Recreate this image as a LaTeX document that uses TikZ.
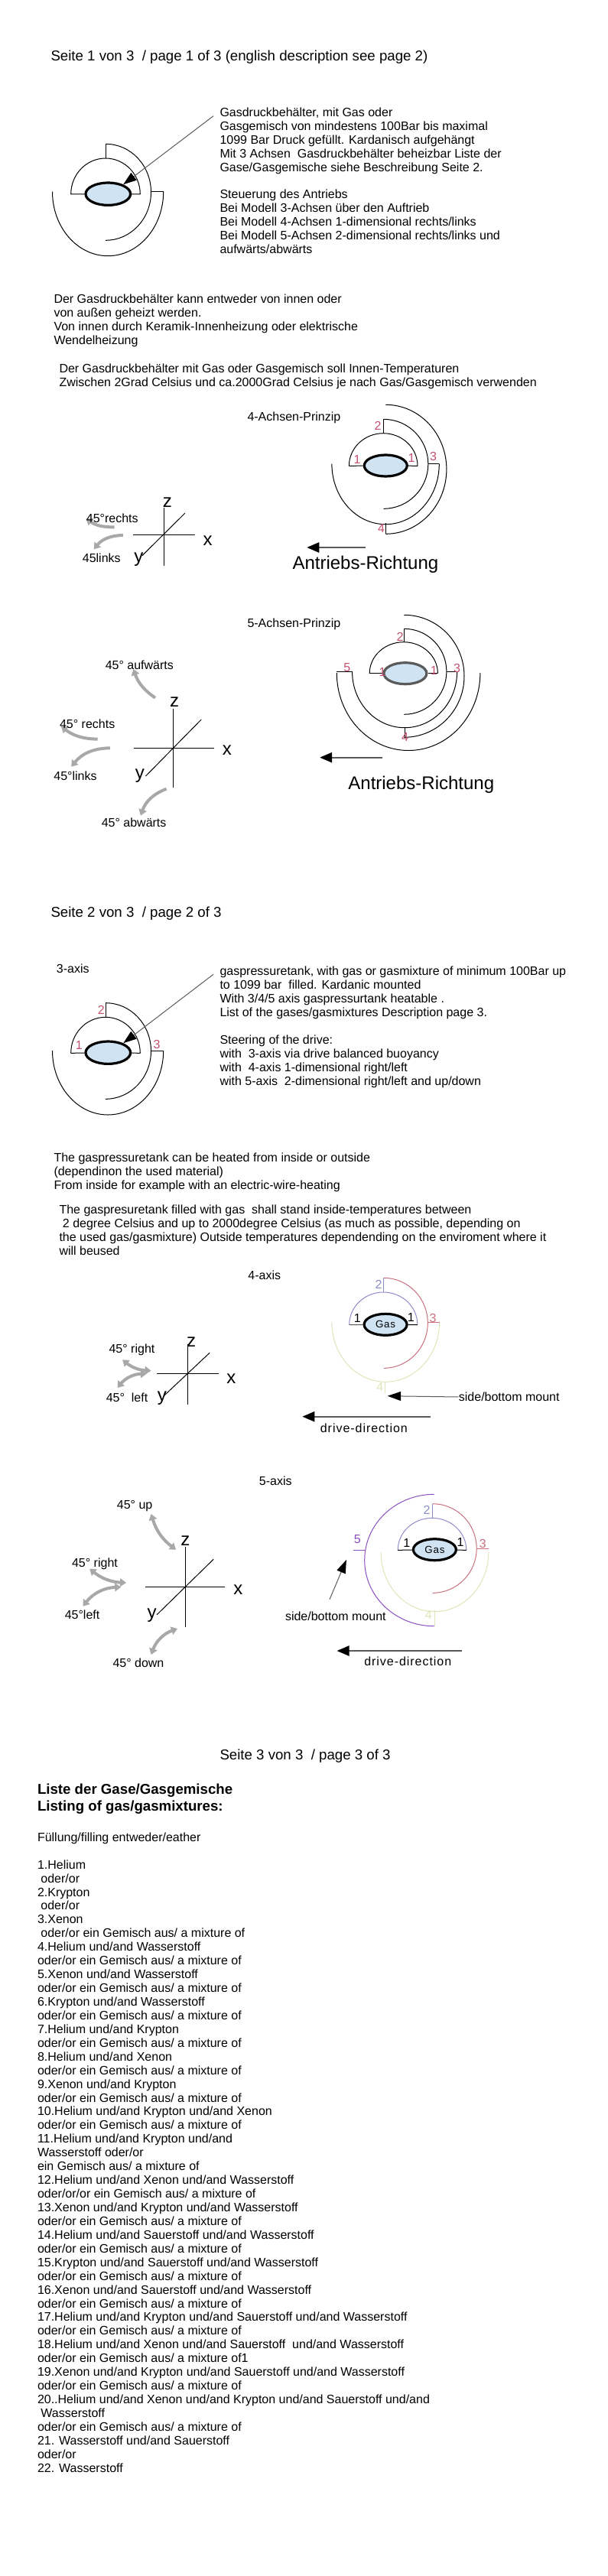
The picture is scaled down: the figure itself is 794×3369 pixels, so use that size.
\documentclass[tikz,border=0pt]{standalone}
\usepackage{fontspec}
\setmainfont{Liberation Sans}
\newfontfamily\spacedfont[LetterSpace=6]{Liberation Sans}
\usetikzlibrary{arrows.meta,shapes.geometric}
\definecolor{tankblue}{RGB}{207,227,242}
\definecolor{labelred}{RGB}{194,80,110}
\definecolor{arrowgray}{RGB}{168,168,168}
\definecolor{linegray}{RGB}{90,90,90}
\definecolor{bluearc}{RGB}{140,140,200}
\definecolor{redarc}{RGB}{200,112,127}
\definecolor{greenarc}{RGB}{221,230,184}
\definecolor{purplearc}{RGB}{138,79,192}
\tikzset{every picture/.style={line width=0.75pt},
  doctext/.style={anchor=base west,inner sep=0pt,align=left,font=\fontsize{12}{13.45}\selectfont},
  pagetitle/.style={doctext,font=\fontsize{14}{16}\selectfont},
  bigtext/.style={doctext,font=\fontsize{18}{20}\selectfont},
  axislabel/.style={inner sep=0pt,font=\fontsize{18}{20}\selectfont},
  numlabel/.style={inner sep=0pt,font=\fontsize{12}{14}\selectfont},
  tank/.style={ellipse,draw=black,line width=2.4pt,fill=tankblue,inner sep=0pt,minimum width=44pt,minimum height=22pt},
  tanksmall/.style={tank,minimum width=42pt,minimum height=21pt},
  pointer/.style={draw=linegray,-{Triangle[length=13pt,width=9pt,color=black]}},
  drivearrow/.style={draw=linegray,line width=1.2pt,-{Triangle[length=12pt,width=10pt,color=black]}},
  swingarrow/.style={arrowgray,line width=3pt,-{Triangle[length=6pt,width=8pt]}},
  swingboth/.style={arrowgray,line width=3pt,{Triangle[length=6pt,width=8pt]}-{Triangle[length=6pt,width=8pt]}}}
\begin{document}
\begin{tikzpicture}[x=0.75pt,y=0.75pt,yscale=-1,xscale=1]
\useasboundingbox (0,0) rectangle (794,3369);

% Text Node
\node[pagetitle] (titleA) at (66,79) {Seite 1 von 3~ / page 1 of 3 (english description see page 2)};
\node[doctext] (textAa) at (287,331.6) {Gasdruckbehälter, mit Gas oder\\Gasgemisch von mindestens 100Bar bis maximal\\1099 Bar Druck gefüllt. Kardanisch aufgehängt\\Mit 3 Achsen~ Gasdruckbehälter beheizbar Liste der\\Gase/Gasgemische siehe Beschreibung Seite 2.\\~\\Steuerung des Antriebs\\Bei Modell 3-Achsen über den Auftrieb\\Bei Modell 4-Achsen 1-dimensional rechts/links\\Bei Modell 5-Achsen 2-dimensional rechts/links und\\aufwärts/abwärts};
\node[doctext] (textAb) at (70,450.5) {Der Gasdruckbehälter kann entweder von innen oder\\von außen geheizt werden.\\Von innen durch Keramik-Innenheizung oder elektrische\\Wendelheizung};
\node[doctext] (textAc) at (77,505.2) {Der Gasdruckbehälter mit Gas oder Gasgemisch soll Innen-Temperaturen\\Zwischen 2Grad Celsius und ca.2000Grad Celsius je nach Gas/Gasgemisch verwenden};

% Tank, 3 axes
\node[tank] (tankA) at (141.3,253.7) {};
\coordinate (armAl) at (92.7,254);
\coordinate (armAr) at (183.3,254);
\coordinate (pivotAa) at (138.2,207);
\coordinate (pivotAb) at (138.2,188.3);
\coordinate (armAs) at (197.5,250.7);
\coordinate (armAe) at (213.7,250.7);
\coordinate (leaderA) at (279,151.7);
\draw (armAl) arc[start angle=180,end angle=360,x radius=45.3,y radius=47];
\draw (pivotAb) arc[start angle=-90,end angle=90,x radius=59.3,y radius=63];
\draw (armAe) arc[start angle=0,end angle=180,x radius=72.6,y radius=84];
% Connection
\draw (armAl) -- (tankA);
\draw (tankA) -- (armAr);
\draw (pivotAa) -- (pivotAb);
\draw (armAs) -- (armAe);
\draw[pointer] (leaderA) -- (tankA.32);

% Tank, 4 axes
\node[doctext] (prinzipB) at (323,550) {4-Achsen-Prinzip};
\node[tanksmall] (tankB) at (504.3,609) {};
\coordinate (armBl) at (456.4,609.3);
\coordinate (armBr) at (546,609.3);
\coordinate (pivotBa) at (501.6,566.7);
\coordinate (pivotBb) at (501.6,548.3);
\coordinate (armBs) at (559.8,606.7);
\coordinate (armBe) at (574.3,606.7);
\coordinate (pivotBc) at (504.3,684);
\coordinate (pivotBd) at (504.3,698.3);
\draw (armBl) arc[start angle=180,end angle=360,x radius=44.8,y radius=42.6];
\draw (pivotBb) arc[start angle=-90,end angle=90,x radius=58.2,y radius=58.5];
\draw (armBe) arc[start angle=0,end angle=180,x radius=70.2,y radius=79];
\draw (pivotBd) arc[start angle=90,end angle=-90,x radius=79.6,y radius=84.5];
% Connection
\draw (armBl) -- (tankB);
\draw (tankB) -- (armBr);
\draw (pivotBa) -- (pivotBb);
\draw (armBs) -- (armBe);
\draw (pivotBc) -- (pivotBd);
\node[numlabel,labelred] (numBa) at (467,600.7) {1};
\node[numlabel,labelred] (numBb) at (538,599) {1};
\node[numlabel,labelred] (numBc) at (494,557.3) {2};
\node[numlabel,labelred] (numBd) at (566.6,597.3) {3};
\node[numlabel,labelred] (numBe) at (498.5,690.7) {4};
\coordinate (driveBa) at (477.5,716);
\coordinate (driveBb) at (401.3,716);
\draw[drivearrow] (driveBa) -- (driveBb);
\node[bigtext] (driveB) at (382,744) {Antriebs-Richtung};
% Axes, 4 axes
\draw (214.6,664) -- (214.6,740);
\draw (174.4,699.3) -- (254.7,699.3);
\draw (242,671) -- (185.9,726.7);
\node[axislabel] (axisBz) at (218.8,657.3) {z};
\node[axislabel] (axisBx) at (271.6,706.7) {x};
\node[axislabel] (axisBy) at (181.3,731.7) {y};
\draw[swingarrow] (149.5,689.3) to[bend right=18] (112.4,678.3);
\draw[swingarrow] (161,700) to[bend left=25] (122.7,718.3);
\node[doctext] (swingBa) at (112.4,683.3) {45°rechts};
\node[doctext] (swingBb) at (107.4,735.7) {45links};

% Tank, 5 axes
\node[doctext] (prinzipC) at (323,820) {5-Achsen-Prinzip};
\node[tanksmall,draw=linegray] (tankC) at (529.9,880.7) {};
\coordinate (armCl) at (483.2,880.7);
\coordinate (armCr) at (572.4,880.7);
\coordinate (pivotCa) at (528.4,840);
\coordinate (pivotCb) at (528.4,822.3);
\coordinate (armCs) at (583.9,878.7);
\coordinate (armCe) at (597.6,878.7);
\coordinate (pivotCc) at (529.5,951.7);
\coordinate (pivotCd) at (529.5,964.3);
\coordinate (armCf) at (440.4,878.7);
\coordinate (armCg) at (460.6,878.7);
\coordinate (armCh) at (627.9,880);
\coordinate (topC) at (528.4,804.3);
\draw (armCl) arc[start angle=180,end angle=360,x radius=44.6,y radius=41];
\draw (pivotCb) arc[start angle=-90,end angle=90,x radius=55.5,y radius=56];
\draw (armCe) arc[start angle=0,end angle=180,x radius=68.5,y radius=73];
\draw (topC) arc[start angle=-90,end angle=90,x radius=78.6,y radius=80];
\draw (armCh) arc[start angle=0,end angle=180,x radius=93.8,y radius=101.5];
% Connection
\draw (armCl) -- (tankC);
\draw (tankC) -- (armCr);
\draw (pivotCa) -- (pivotCb);
\draw (armCs) -- (armCe);
\draw (pivotCc) -- (pivotCd);
\draw (armCf) -- (armCg);
\node[numlabel,labelred] (numCa) at (500,878.7) {1};
\node[numlabel,labelred] (numCb) at (567.4,877.3) {1};
\node[numlabel,labelred] (numCc) at (523,833.3) {2};
\node[numlabel,labelred] (numCd) at (597.6,874) {3};
\node[numlabel,labelred] (numCe) at (529.5,964.3) {4};
\node[numlabel,labelred] (numCf) at (453.7,872.7) {5};
\coordinate (driveCa) at (499.7,990.7);
\coordinate (driveCb) at (418.2,990.7);
\draw[drivearrow] (driveCa) -- (driveCb);
\node[bigtext] (driveC) at (454.9,1032) {Antriebs-Richtung};
% Axes, 5 axes
\draw (226.8,926.7) -- (226.8,1030);
\draw (175.1,978) -- (279.6,978);
\draw (263.2,941) -- (190.5,1015);
\node[axislabel] (axisCz) at (228,917.7) {z};
\node[axislabel] (axisCx) at (296.8,981.3) {x};
\node[axislabel] (axisCy) at (182.8,1015) {y};
\draw[swingarrow] (203,912.7) to[bend right=18] (174.4,875);
\draw[swingarrow] (127.7,966.7) to[bend right=18] (79.9,950);
\draw[swingarrow] (143.8,978.3) to[bend left=25] (93.2,1002.7);
\draw[swingarrow] (217.6,1031.7) to[bend left=25] (184,1066.7);
\node[doctext] (swingCa) at (137.3,875) {45° aufwärts};
\node[doctext] (swingCb) at (77.6,952.3) {45° rechts};
\node[doctext] (swingCc) at (69.9,1020.7) {45°links};
\node[doctext] (swingCd) at (132.3,1081) {45° abwärts};

% Text Node
\node[pagetitle] (titleD) at (66,1199) {Seite 2 von 3~ / page 2 of 3};
\node[doctext] (axisLabelD) at (73.4,1272.3) {3-axis};
\node[doctext] (textDa) at (287,1419.1) {gaspressuretank, with gas or gasmixture of minimum 100Bar up\\to 1099 bar~ filled. Kardanic mounted\\With 3/4/5 axis gaspressurtank heatable .\\List of the gases/gasmixtures Description page 3.\\~\\Steering of the drive:\\with~ 3-axis via drive balanced buoyancy\\with~ 4-axis 1-dimensional right/left\\with 5-axis~ 2-dimensional right/left and up/down};
\node[doctext] (textDb) at (70,1555.2) {The gaspressuretank can be heated from inside or outside\\(dependinon the used material)\\From inside for example with an electric-wire-heating};
\node[doctext] (textDc) at (77,1641.1) {The gaspresuretank filled with gas~ shall stand inside-temperatures between\\~2 degree Celsius and up to 2000degree Celsius (as much as possible, depending on\\the used gas/gasmixture) Outside temperatures dependending on the enviroment where it\\will beused};

% Tank, 3 axis
\node[tank] (tankD) at (141.3,1376.7) {};
\coordinate (armDl) at (92.7,1377.3);
\coordinate (armDr) at (183.3,1377.3);
\coordinate (pivotDa) at (138.2,1330.3);
\coordinate (pivotDb) at (138.2,1311.7);
\coordinate (armDs) at (197.5,1374);
\coordinate (armDe) at (213.7,1374);
\coordinate (leaderD) at (279,1274.3);
\draw (armDl) arc[start angle=180,end angle=360,x radius=45.3,y radius=47];
\draw (pivotDb) arc[start angle=-90,end angle=90,x radius=59.3,y radius=62.8];
\draw (armDe) arc[start angle=0,end angle=180,x radius=72.6,y radius=84];
% Connection
\draw (armDl) -- (tankD);
\draw (tankD) -- (armDr);
\draw (pivotDa) -- (pivotDb);
\draw (armDs) -- (armDe);
\draw[pointer] (leaderD) -- (tankD.32);
\node[numlabel,labelred] (numDa) at (103.3,1367) {1};
\node[numlabel,labelred] (numDb) at (132.2,1320.7) {2};
\node[numlabel,labelred] (numDc) at (205,1366) {3};

% Tank, 4 axis
\node[doctext] (axisLabelE) at (323.9,1673.3) {4-axis};
\node[tanksmall] (tankE) at (504.1,1732.3) {\spacedfont\fontsize{10}{12}\selectfont Gas};
\coordinate (armEl) at (456.7,1732.7);
\coordinate (armEr) at (545.8,1732.7);
\coordinate (pivotEa) at (501.8,1690);
\coordinate (pivotEb) at (501.8,1671.3);
\coordinate (armEs) at (559.3,1729.3);
\coordinate (armEe) at (574.6,1729.3);
\coordinate (pivotEc) at (503.7,1807.3);
\coordinate (pivotEd) at (503.7,1821.7);
\draw[bluearc] (armEl) arc[start angle=180,end angle=360,x radius=44.6,y radius=42.7];
\draw[redarc] (pivotEb) arc[start angle=-90,end angle=90,x radius=57.5,y radius=59];
\draw[greenarc] (armEe) arc[start angle=0,end angle=180,x radius=70.4,y radius=78];
% Connection
\draw[linegray] (armEl) -- (tankE);
\draw (tankE) -- (armEr);
\draw[bluearc] (pivotEa) -- (pivotEb);
\draw[redarc] (armEs) -- (armEe);
\draw[greenarc] (pivotEc) -- (pivotEd);
\node[numlabel] (numEa) at (467.4,1724) {1};
\node[numlabel] (numEb) at (537.4,1722.7) {1};
\node[numlabel,bluearc] (numEc) at (495,1680) {2};
\node[numlabel,redarc] (numEd) at (566,1724.3) {3};
\node[numlabel,greenarc] (numEe) at (496.9,1814.3) {4};
\node[doctext] (mountE) at (599.4,1832.7) {side/bottom mount};
\coordinate (mountEa) at (506.8,1825.7);
\draw[pointer] (mountE.west) -- (mountEa);
\coordinate (driveEa) at (563,1852.7);
\coordinate (driveEb) at (395.4,1852.7);
\draw[drivearrow] (driveEa) -- (driveEb);
\node[doctext,font=\spacedfont\fontsize{12}{14}\selectfont] (driveE) at (418.4,1873.7) {drive-direction};
% Axes, 4 axis
\draw (245.8,1758) -- (245.8,1836.7);
\draw (205.2,1796.7) -- (286.4,1796.7);
\draw (274.1,1769.3) -- (214.8,1825);
\node[axislabel] (axisEz) at (250,1755) {z};
\node[axislabel] (axisEx) at (302.4,1803.3) {x};
\node[axislabel] (axisEy) at (211.8,1829) {y};
\draw[swingboth] (197.6,1792.7) to[bend right=18] (160.1,1778.3);
\draw[swingboth] (191.8,1796.7) to[bend left=25] (153.6,1815);
\node[doctext] (swingEa) at (142.1,1769.7) {45° right};
\node[doctext] (swingEb) at (138.3,1833.3) {45°~ left};

% Tank, 5 axis
\node[doctext] (axisLabelF) at (338.4,1942.3) {5-axis};
\node[tanksmall] (tankF) at (568.4,2026.7) {\spacedfont\fontsize{10}{12}\selectfont Gas};
\coordinate (armFl) at (520.2,2027.3);
\coordinate (armFr) at (609.8,2027.3);
\coordinate (pivotFa) at (565.7,1985);
\coordinate (pivotFb) at (565.7,1966.7);
\coordinate (armFs) at (623.2,2025);
\coordinate (armFe) at (638.8,2025);
\coordinate (pivotFc) at (568.8,2105.7);
\coordinate (pivotFd) at (568.8,2126.7);
\coordinate (armFf) at (461.7,2027.7);
\coordinate (armFg) at (477,2027.7);
\coordinate (topF) at (567.7,1954.3);
\coordinate (mountFb) at (431,2091.7);
\coordinate (mountFa) at (452.9,2040);
\draw[bluearc] (armFl) arc[start angle=180,end angle=360,x radius=44.8,y radius=42];
\draw[redarc] (pivotFb) arc[start angle=-90,end angle=90,x radius=57.5,y radius=58.3];
\draw[greenarc] (638.8,2030) arc[start angle=0,end angle=180,x radius=70.4,y radius=77.7];
\draw[purplearc] (topF) arc[start angle=-90,end angle=-270,x radius=91,y radius=86.2];
% Connection
\draw (armFl) -- (tankF);
\draw (tankF) -- (armFr);
\draw[bluearc] (pivotFa) -- (pivotFb);
\draw[redarc] (armFs) -- (armFe);
\draw[greenarc] (pivotFc) -- (pivotFd);
\draw[purplearc] (armFf) -- (armFg);
\node[numlabel] (numFa) at (531.7,2018.3) {1};
\node[numlabel] (numFb) at (602.1,2016.7) {1};
\node[numlabel,bluearc] (numFc) at (558.1,1975) {2};
\node[numlabel,redarc] (numFd) at (631.2,2019) {3};
\node[numlabel,greenarc] (numFe) at (560.4,2111.7) {4};
\node[numlabel,purplearc] (numFf) at (467.4,2013.3) {5};
\node[doctext] (mountF) at (372.5,2119.3) {side/bottom mount};
\draw[pointer] (mountFb) -- (mountFa);
\coordinate (driveFa) at (604.4,2159);
\coordinate (driveFb) at (440.6,2159);
\draw[drivearrow] (driveFa) -- (driveFb);
\node[doctext,font=\spacedfont\fontsize{12}{14}\selectfont] (driveF) at (475.8,2178.3) {drive-direction};
% Axes, 5 axis
\draw (242.4,2023.3) -- (242.4,2127.7);
\draw (189.9,2075.7) -- (294,2075.7);
\draw (279.1,2039.3) -- (205.2,2111.7);
\node[axislabel] (axisFz) at (242.4,2015) {z};
\node[axislabel] (axisFx) at (311.3,2079.3) {x};
\node[axislabel] (axisFy) at (198.7,2112.7) {y};
\draw[swingboth] (230.1,2026.7) to[bend right=18] (197.6,1980);
\draw[swingboth] (165,2070) to[bend right=18] (117.2,2051.7);
\draw[swingboth] (158.2,2075.7) to[bend left=25] (108.4,2100.7);
\draw[swingboth] (232,2130) to[bend left=25] (197.6,2164);
\node[doctext] (swingFa) at (152.4,1973.7) {45° up};
\node[doctext] (swingFb) at (93.6,2049.7) {45° right};
\node[doctext] (swingFc) at (84.3,2117.3) {45°left};
\node[doctext] (swingFd) at (147,2180) {45° down};

% Text Node
\node[pagetitle] (titleG) at (287,2301) {Seite 3 von 3~ / page 3 of 3};
\node[doctext,font=\bfseries\fontsize{14}{16.5}\selectfont] (headG) at (48.5,2368.5) {Liste der Gase/Gasgemische\\Listing of gas/gasmixtures:};
\node[doctext] (fillG) at (48.5,2408.6) {Füllung/filling entweder/eather};
\node[doctext] (listG) at (48.5,3233.2) {1.Helium\\~oder/or\\2.Krypton\\~oder/or\\3.Xenon\\~oder/or ein Gemisch aus/ a mixture of\\4.Helium und/and Wasserstoff\\oder/or ein Gemisch aus/ a mixture of\\5.Xenon und/and Wasserstoff\\oder/or ein Gemisch aus/ a mixture of\\6.Krypton und/and Wasserstoff\\oder/or ein Gemisch aus/ a mixture of\\7.Helium und/and Krypton\\oder/or ein Gemisch aus/ a mixture of\\8.Helium und/and Xenon\\oder/or ein Gemisch aus/ a mixture of\\9.Xenon und/and Krypton\\oder/or ein Gemisch aus/ a mixture of\\10.Helium und/and Krypton und/and Xenon\\oder/or ein Gemisch aus/ a mixture of\\11.Helium und/and Krypton und/and\\Wasserstoff oder/or\\ein Gemisch aus/ a mixture of\\12.Helium und/and Xenon und/and Wasserstoff\\oder/or/or ein Gemisch aus/ a mixture of\\13.Xenon und/and Krypton und/and Wasserstoff\\oder/or ein Gemisch aus/ a mixture of\\14.Helium und/and Sauerstoff und/and Wasserstoff\\oder/or ein Gemisch aus/ a mixture of\\15.Krypton und/and Sauerstoff und/and Wasserstoff\\oder/or ein Gemisch aus/ a mixture of\\16.Xenon und/and Sauerstoff und/and Wasserstoff\\oder/or ein Gemisch aus/ a mixture of\\17.Helium und/and Krypton und/and Sauerstoff und/and Wasserstoff\\oder/or ein Gemisch aus/ a mixture of\\18.Helium und/and Xenon und/and Sauerstoff~ und/and Wasserstoff\\oder/or ein Gemisch aus/ a mixture of1\\19.Xenon und/and Krypton und/and Sauerstoff und/and Wasserstoff\\oder/or ein Gemisch aus/ a mixture of\\20..Helium und/and Xenon und/and Krypton und/and Sauerstoff und/and\\~Wasserstoff\\oder/or ein Gemisch aus/ a mixture of\\21. Wasserstoff und/and Sauerstoff\\oder/or\\22. Wasserstoff};

\end{tikzpicture}
\end{document}
